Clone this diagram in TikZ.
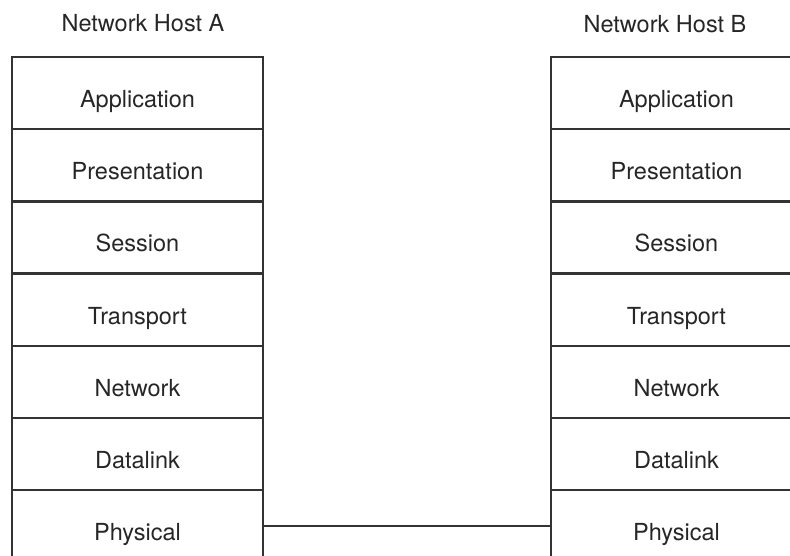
\documentclass[tikz,border=0pt]{standalone}
\usepackage{fontspec}
\setmainfont{TeX Gyre Heros}
\usepackage{tikz}
\usetikzlibrary{positioning}

\tikzset{
  layer/.style={rectangle, draw=black!80, line width=2.3pt, minimum width=251pt, minimum height=72.2pt, inner sep=0pt, text=black!85, text height=29pt, text depth=0pt, font=\fontsize{23.5}{28}\selectfont},
  host/.style={anchor=base, text=black!85, font=\fontsize{23.5}{28}\selectfont}
}

\begin{document}
\begin{tikzpicture}[x=1pt,y=1pt]
\useasboundingbox (0,0) rectangle (790,556);
\clip (0,0) rectangle (790,556);
\node[host] (ha) at (143,524) {Network Host A};
\node[host] (hb) at (665,523) {Network Host B};
\node[layer] (a1) at (137.5,462.9) {Application};
\node[layer] (a2) at (137.5,390.7) {Presentation};
\node[layer] (a3) at (137.5,318.5) {Session};
\node[layer] (a4) at (137.5,246.3) {Transport};
\node[layer] (a5) at (137.5,174.1) {Network};
\node[layer] (a6) at (137.5,101.9) {Datalink};
\node[layer] (a7) at (137.5,29.7) {Physical};
\node[layer] (b1) at (676.5,462.9) {Application};
\node[layer] (b2) at (676.5,390.7) {Presentation};
\node[layer] (b3) at (676.5,318.5) {Session};
\node[layer] (b4) at (676.5,246.3) {Transport};
\node[layer] (b5) at (676.5,174.1) {Network};
\node[layer] (b6) at (676.5,101.9) {Datalink};
\node[layer] (b7) at (676.5,29.7) {Physical};
\draw[draw=black!80, line width=2pt] (a7) -- (b7);
\end{tikzpicture}
\end{document}
